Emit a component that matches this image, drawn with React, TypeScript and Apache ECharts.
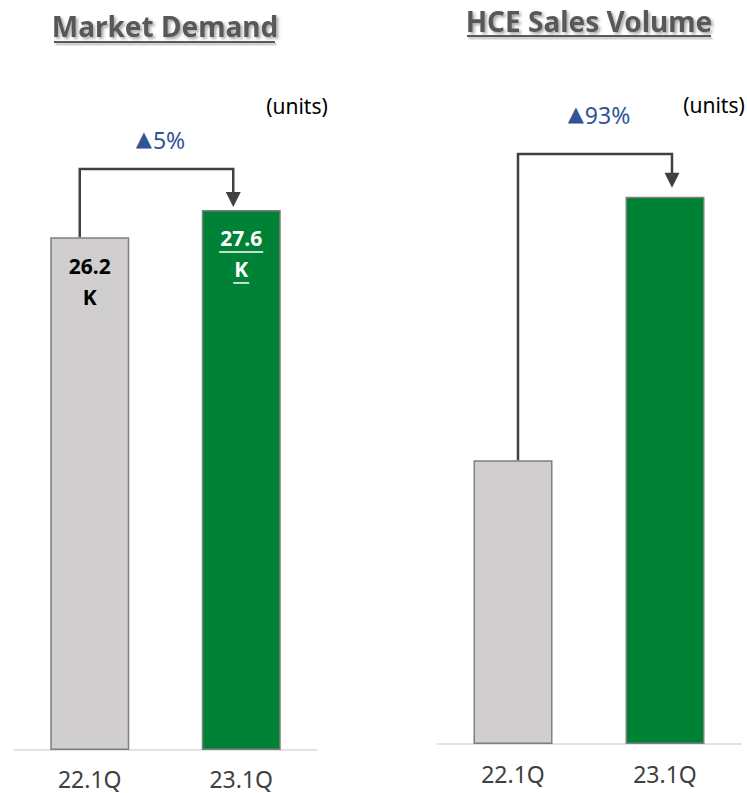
import React, { useEffect, useRef } from 'react';
import * as echarts from 'echarts';

const categories = ['22.1Q', '23.1Q'];
const marketDemand = [26.2, 27.6];
const hceSales = [2.8, 5.4];
const titles = ['Market Demand', 'HCE Sales Volume'];
const growth = ['5%', '93%'];
const unitLabel = '(units)';

const FONT = '"Noto Sans", "Open Sans", sans-serif';
const GRAY = '#D0CECE';
const GREEN = '#008236';
const BORDER = '#7F7F7F';
const LINE = '#404040';
const BLUE = '#2F5597';

export default function App() {
  const ref = useRef<HTMLDivElement>(null);
  useEffect(() => {
    document.body.style.margin = '0';
    const chart = echarts.init(ref.current!, null, { renderer: 'svg' });
    const xAxisBase = (gridIndex: number, margin: number) => ({
      type: 'category',
      gridIndex,
      data: categories,
      axisLine: { show: true, lineStyle: { color: '#D9D9D9', width: 1.5 } },
      axisTick: { show: false },
      axisLabel: { color: LINE, fontSize: 23, fontFamily: FONT, margin },
    });
    const yAxisBase = (gridIndex: number, max: number) => ({
      type: 'value',
      gridIndex,
      min: 0,
      max,
      show: false,
      splitLine: { show: false },
    });
    const barData = (vals: number[], withLabel: boolean) =>
      vals.map((v, i) => ({
        value: v,
        itemStyle: { color: i === 0 ? GRAY : GREEN, borderColor: BORDER, borderWidth: 1.5 },
        ...(withLabel ? { label: { rich: { v: { color: i === 0 ? '#000' : '#fff' } } } } : {}),
      }));

    chart.setOption({
      animation: false,
      grid: [
        { left: 14, width: 303, top: 163, bottom: 43 },
        { left: 437, width: 304, top: 136, bottom: 49 },
      ],
      xAxis: [xAxisBase(0, 17), xAxisBase(1, 18)],
      yAxis: [yAxisBase(0, 30), yAxisBase(1, 6)],
      series: [
        {
          type: 'bar',
          xAxisIndex: 0,
          yAxisIndex: 0,
          barWidth: 79,
          data: barData(marketDemand, true),
          label: {
            show: true,
            position: 'insideTop',
            distance: 13,
            formatter: (p: any) => `{v|${p.value}}\n{v|K}`,
            rich: {
              v: {
                fontSize: 21,
                fontWeight: 'bold',
                fontFamily: FONT,
                lineHeight: 31,
                align: 'center',
                color: '#000',
              },
            },
          },
        },
        {
          type: 'bar',
          xAxisIndex: 1,
          yAxisIndex: 1,
          barWidth: 79,
          data: barData(hceSales, false),
        },
      ],
    });

    const graphics: any[] = [];
    const arrowSpecs = [
      { grid: 0, data: marketDemand, dx0: -10, dx1: -8, yH: 169, tipGap: 3, textY: 140, label: growth[0] },
      { grid: 1, data: hceSales, dx0: 5, dx1: 7, yH: 154, tipGap: 9, textY: 115, label: growth[1] },
    ];
    arrowSpecs.forEach((s) => {
      const p0 = chart.convertToPixel({ gridIndex: s.grid } as any, [0, s.data[0]]) as number[];
      const p1 = chart.convertToPixel({ gridIndex: s.grid } as any, [1, s.data[1]]) as number[];
      const xa = p0[0] + s.dx0;
      const xb = p1[0] + s.dx1;
      const tip = p1[1] - s.tipGap;
      graphics.push({
        type: 'polyline',
        shape: { points: [[xa, p0[1]], [xa, s.yH], [xb, s.yH], [xb, tip - 12]] },
        style: { stroke: LINE, lineWidth: 2.5, fill: null },
        silent: true,
      });
      graphics.push({
        type: 'polygon',
        shape: { points: [[xb - 7.5, tip - 15], [xb + 7.5, tip - 15], [xb, tip]] },
        style: { fill: LINE },
      });
      graphics.push({
        type: 'text',
        x: (xa + xb) / 2 + 4,
        y: s.textY,
        style: {
          text: `{t|▲}{p|${s.label}}`,
          fill: BLUE,
          fontFamily: FONT,
          align: 'center',
          verticalAlign: 'middle',
          rich: {
            t: { fontSize: 21, fill: BLUE, fontFamily: '"DejaVu Sans", sans-serif', padding: [0, 1, 2, 0] },
            p: { fontSize: 23, fill: BLUE, fontFamily: FONT },
          },
        },
      });
    });

    // underline for highlighted label
    const pg = chart.convertToPixel({ gridIndex: 0 } as any, [1, marketDemand[1]]) as number[];
    graphics.push({
      type: 'polyline',
      shape: { points: [[pg[0] - 22, pg[1] + 42], [pg[0] + 22, pg[1] + 42]] },
      style: { stroke: '#fff', lineWidth: 1.5, fill: null },
      z: 100,
    });
    graphics.push({
      type: 'polyline',
      shape: { points: [[pg[0] - 8, pg[1] + 73], [pg[0] + 8, pg[1] + 73]] },
      style: { stroke: '#fff', lineWidth: 1.5, fill: null },
      z: 100,
    });

    // titles
    const titleSpecs = [
      { text: titles[0], x: 165, y: 26, ux1: 54, ux2: 275, uy: 42 },
      { text: titles[1], x: 589, y: 21, ux1: 467, ux2: 711, uy: 36 },
    ];
    titleSpecs.forEach((t) => {
      graphics.push({
        type: 'rect',
        shape: { x: t.ux1 + 1.5, y: t.uy + 1, width: t.ux2 - t.ux1, height: 2.5 },
        style: { fill: 'rgba(0,0,0,0.18)' },
      });
      graphics.push({
        type: 'rect',
        shape: { x: t.ux1, y: t.uy - 1, width: t.ux2 - t.ux1, height: 2 },
        style: { fill: '#595959' },
      });
      graphics.push({
        type: 'text',
        x: t.x,
        y: t.y,
        style: {
          text: t.text,
          fill: '#595959',
          fontSize: 28,
          fontWeight: 'bold',
          fontFamily: FONT,
          align: 'center',
          verticalAlign: 'middle',
          textShadowColor: 'rgba(0,0,0,0.35)',
          textShadowBlur: 3,
          textShadowOffsetX: 2,
          textShadowOffsetY: 2,
        },
      });
    });

    // units
    [
      { x: 297, y: 106 },
      { x: 714, y: 105 },
    ].forEach((u) => {
      graphics.push({
        type: 'text',
        x: u.x,
        y: u.y,
        style: {
          text: unitLabel,
          fill: '#000',
          fontSize: 21,
          fontFamily: FONT,
          align: 'center',
          verticalAlign: 'middle',
        },
      });
    });

    chart.setOption({ graphic: graphics });

    return () => chart.dispose();
  }, []);
  return <div ref={ref} style={{ width: 747, height: 793 }} />;
}
